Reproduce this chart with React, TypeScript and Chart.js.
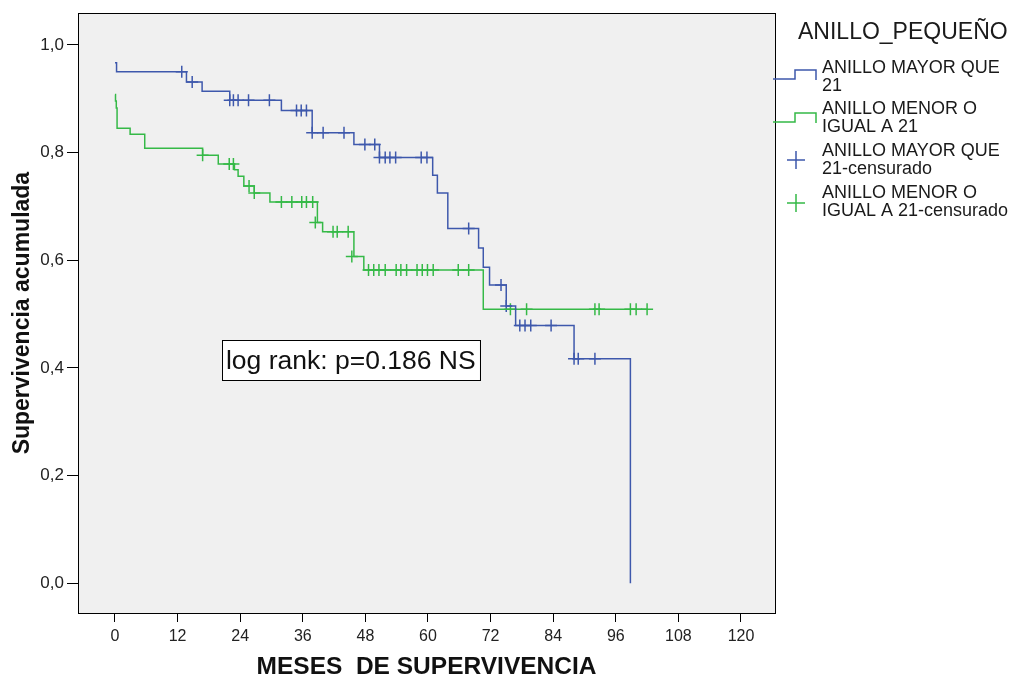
import React, { useEffect, useRef } from "react";
import { Chart, registerables } from "chart.js";
Chart.register(...registerables);

// Kaplan-Meier steps: time (months) at which survival drops to value
const blueEventTimes = [0, 0.3, 13.7, 16.7, 22.0, 31.9, 37.8, 45.8, 50.7, 60.9, 61.8, 63.8, 69.7, 70.6, 71.8, 75.0, 76.8, 88.0, 98.8];
const blueSurvival = [0.967, 0.95, 0.931, 0.914, 0.897, 0.878, 0.837, 0.815, 0.791, 0.758, 0.725, 0.659, 0.623, 0.587, 0.554, 0.515, 0.479, 0.417, 0.0];

const greenEventTimes = [0, 0.1, 0.25, 0.4, 2.9, 5.7, 16.8, 19.8, 22.9, 23.6, 24.7, 26.7, 29.7, 38.8, 39.8, 45.8, 47.7, 70.6, 102.0];
const greenSurvival = [0.908, 0.896, 0.883, 0.845, 0.834, 0.808, 0.795, 0.779, 0.768, 0.756, 0.738, 0.725, 0.708, 0.67, 0.653, 0.607, 0.582, 0.509, 0.509];

// censored observations
const blueCensorTimes = [12.8, 14.8, 22.0, 22.7, 23.6, 25.6, 29.6, 34.8, 35.7, 36.7, 37.8, 39.9, 43.9, 47.9, 49.8, 50.7, 51.8, 52.7, 53.8, 58.7, 59.8, 67.8, 74.0, 75.0, 77.6, 78.6, 79.7, 83.6, 88.0, 88.8, 92.0];
const blueCensorSurv = [0.95, 0.931, 0.897, 0.897, 0.897, 0.897, 0.897, 0.878, 0.878, 0.878, 0.837, 0.837, 0.837, 0.815, 0.815, 0.791, 0.791, 0.791, 0.791, 0.791, 0.791, 0.659, 0.554, 0.515, 0.479, 0.479, 0.479, 0.479, 0.417, 0.417, 0.417];

const greenCensorTimes = [16.8, 21.9, 22.7, 25.7, 26.7, 31.9, 33.9, 35.8, 36.7, 37.9, 38.4, 41.8, 42.6, 44.7, 45.4, 48.6, 49.6, 50.6, 51.8, 53.9, 54.8, 55.9, 57.9, 58.9, 59.9, 61.0, 65.8, 67.8, 75.8, 78.9, 92.0, 92.8, 98.8, 99.9, 102.0];
const greenCensorSurv = [0.795, 0.779, 0.779, 0.738, 0.725, 0.708, 0.708, 0.708, 0.708, 0.708, 0.67, 0.653, 0.653, 0.653, 0.607, 0.582, 0.582, 0.582, 0.582, 0.582, 0.582, 0.582, 0.582, 0.582, 0.582, 0.582, 0.582, 0.582, 0.509, 0.509, 0.509, 0.509, 0.509, 0.509, 0.509];

const xTickValues = [0, 12, 24, 36, 48, 60, 72, 84, 96, 108, 120];
const yTickValues = [0, 0.2, 0.4, 0.6, 0.8, 1.0];

const legendTitle = "ANILLO_PEQUEÑO";
const legendLabels = [
  ["ANILLO MAYOR QUE", "21"],
  ["ANILLO MENOR O", "IGUAL A 21"],
  ["ANILLO MAYOR QUE", "21-censurado"],
  ["ANILLO MENOR O", "IGUAL A 21-censurado"],
];
const annotationText = "log rank: p=0.186 NS";
const xTitle = "MESES  DE SUPERVIVENCIA";
const yTitle = "Supervivencia acumulada";

const BLUE = "#3E58AC";
const GREEN = "#35B947";
const FONT = '"Liberation Sans", Arial, sans-serif';

const toXY = (xs: number[], ys: number[]) => xs.map((x, i) => ({ x, y: ys[i] }));

export default function App() {
  const ref = useRef<HTMLCanvasElement | null>(null);
  useEffect(() => {
    const canvas = ref.current!;
    const bgPlugin = {
      id: "bgframe",
      beforeDatasetsDraw(chart: any) {
        const { ctx, chartArea: a } = chart;
        ctx.save();
        ctx.fillStyle = "#F0F0F0";
        ctx.fillRect(a.left, a.top, a.right - a.left, a.bottom - a.top);
        ctx.restore();
      },
      afterDraw(chart: any) {
        const { ctx, chartArea: a, scales } = chart;
        ctx.save();
        ctx.strokeStyle = "#000";
        ctx.lineWidth = 1;
        ctx.strokeRect(Math.round(a.left) + 0.5, Math.round(a.top) + 0.5, Math.round(a.right - a.left), Math.round(a.bottom - a.top));
        // annotation box
        const bx = scales.x.getPixelForValue(20.5);
        const by = scales.y.getPixelForValue(0.451);
        ctx.font = "26.5px " + FONT;
        const tw = ctx.measureText(annotationText).width;
        ctx.fillStyle = "#fff";
        ctx.fillRect(bx, by, tw + 8, 40);
        ctx.strokeRect(Math.round(bx) + 0.5, Math.round(by) + 0.5, Math.round(tw + 8), 40);
        ctx.fillStyle = "#111";
        ctx.textBaseline = "middle";
        ctx.textAlign = "left";
        ctx.fillText(annotationText, bx + 4, by + 21);
        // legend
        ctx.fillStyle = "#1a1a1a";
        ctx.font = "23px " + FONT;
        ctx.fillText(legendTitle, 798, 33);
        ctx.lineWidth = 1.5;
        const step = (color: string, y: number) => {
          ctx.strokeStyle = color;
          ctx.beginPath();
          ctx.moveTo(773, y);
          ctx.lineTo(795, y);
          ctx.lineTo(795, y - 9);
          ctx.lineTo(816, y - 9);
          ctx.lineTo(816, y + 1);
          ctx.stroke();
        };
        const cross = (color: string, x: number, y: number) => {
          ctx.strokeStyle = color;
          ctx.beginPath();
          ctx.moveTo(x - 9, y);
          ctx.lineTo(x + 9, y);
          ctx.moveTo(x, y - 9);
          ctx.lineTo(x, y + 9);
          ctx.stroke();
        };
        step(BLUE, 79);
        step(GREEN, 122);
        cross(BLUE, 796, 160);
        cross(GREEN, 796, 203);
        ctx.font = "18px " + FONT;
        const ys = [[68, 86], [109, 127], [151, 169], [193, 211]];
        legendLabels.forEach((lines, i) => {
          lines.forEach((t, j) => ctx.fillText(t, 822, ys[i][j]));
        });
        ctx.restore();
      },
    };

    const chart = new Chart(canvas, {
      type: "line",
      data: {
        datasets: [
          {
            label: "ANILLO MAYOR QUE 21",
            data: toXY(blueEventTimes, blueSurvival),
            borderColor: BLUE,
            borderWidth: 1.5,
            stepped: "before",
            pointRadius: 0,
            fill: false,
          },
          {
            label: "ANILLO MENOR O IGUAL A 21",
            data: toXY(greenEventTimes, greenSurvival),
            borderColor: GREEN,
            borderWidth: 1.5,
            stepped: "before",
            pointRadius: 0,
            fill: false,
          },
          {
            label: "ANILLO MAYOR QUE 21-censurado",
            data: toXY(blueCensorTimes, blueCensorSurv),
            showLine: false,
            pointStyle: "cross",
            pointRadius: 6,
            borderColor: BLUE,
            borderWidth: 1.5,
          },
          {
            label: "ANILLO MENOR O IGUAL A 21-censurado",
            data: toXY(greenCensorTimes, greenCensorSurv),
            showLine: false,
            pointStyle: "cross",
            pointRadius: 6,
            borderColor: GREEN,
            borderWidth: 1.5,
          },
        ],
      },
      options: {
        responsive: false,
        animation: false,
        layout: { padding: { left: 0, right: 241, top: 8, bottom: 0 } },
        plugins: { legend: { display: false }, tooltip: { enabled: false } },
        elements: { line: { tension: 0 } },
        scales: {
          x: {
            type: "linear",
            min: -7.09,
            max: 126.52,
            afterFit: (s: any) => { s.height = 71; },
            afterBuildTicks: (s: any) => { s.ticks = xTickValues.map((v) => ({ value: v })); },
            grid: { display: true, drawOnChartArea: false, drawTicks: true, tickLength: 9, tickColor: "#000" },
            border: { display: true, color: "#000" },
            ticks: { color: "#222", padding: 5, font: { family: FONT, size: 16 }, maxRotation: 0, autoSkip: false },
            title: { display: true, text: xTitle, color: "#111", font: { family: FONT, size: 24.5, weight: "bold" }, padding: { top: 0, bottom: 2 } },
          },
          y: {
            type: "linear",
            min: -0.0552,
            max: 1.0589,
            afterFit: (s: any) => { s.width = 78; },
            afterBuildTicks: (s: any) => { s.ticks = yTickValues.map((v) => ({ value: v })); },
            grid: { display: true, drawOnChartArea: false, drawTicks: true, tickLength: 11, tickColor: "#000" },
            border: { display: true, color: "#000" },
            ticks: {
              color: "#222",
              padding: 3,
              font: { family: FONT, size: 17 },
              callback: (v: any) => Number(v).toFixed(1).replace(".", ","),
            },
            title: { display: true, text: yTitle, color: "#111", font: { family: FONT, size: 23, weight: "bold" }, padding: { top: 9, bottom: 0 } },
          },
        },
      },
      plugins: [bgPlugin],
    } as any);
    return () => chart.destroy();
  }, []);

  return (
    <div style={{ position: "absolute", left: 0, top: 0, width: 1016, height: 684, background: "#fff" }}>
      <canvas ref={ref} width={1016} height={684} style={{ display: "block" }} />
    </div>
  );
}
